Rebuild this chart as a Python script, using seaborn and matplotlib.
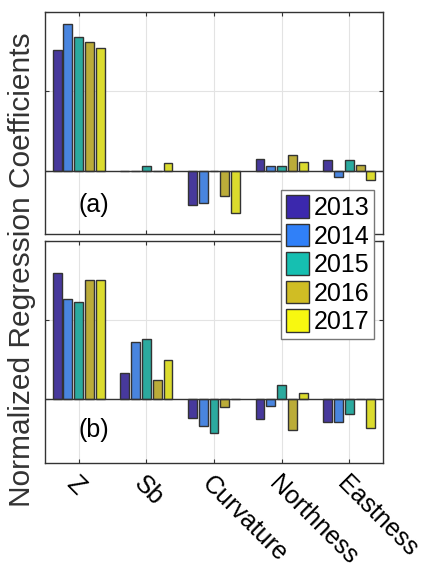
import numpy as np
import pandas as pd
import matplotlib
matplotlib.use("Agg")
import matplotlib.pyplot as plt
import seaborn as sns
from matplotlib.patches import Patch

features = ["Z", "Sb", "Curvature", "Northness", "Eastness"]
years = ["2013", "2014", "2015", "2016", "2017"]
colors = ["#3b28ad", "#3080f8", "#16bfb1", "#d0bd24", "#f8f810"]

# coefficients per year, one value per feature
coef_a = {
    "2013": [1.52, 0.0, -0.43, 0.14, 0.13],
    "2014": [1.85, 0.0, -0.41, 0.06, -0.08],
    "2015": [1.69, 0.06, 0.0, 0.06, 0.13],
    "2016": [1.62, 0.0, -0.32, 0.19, 0.07],
    "2017": [1.55, 0.10, -0.54, 0.11, -0.12],
}
coef_b = {
    "2013": [1.59, 0.33, -0.23, -0.24, -0.28],
    "2014": [1.27, 0.72, -0.33, -0.08, -0.29],
    "2015": [1.23, 0.76, -0.42, 0.18, -0.18],
    "2016": [1.51, 0.25, -0.10, -0.39, 0.0],
    "2017": [1.51, 0.50, 0.0, 0.08, -0.36],
}


def to_long(coef):
    rows = []
    for yr in years:
        for f, v in zip(features, coef[yr]):
            rows.append({"feature": f, "year": yr, "value": v})
    return pd.DataFrame(rows)


def panel(ax, df, tag, tag_y):
    ax.set_axisbelow(True)
    sns.barplot(df, x="feature", y="value", hue="year", order=features,
                hue_order=years, palette=colors, width=0.8, gap=0.18,
                edgecolor="#333333", linewidth=1, legend=False, ax=ax)
    ax.grid(True, axis="both", color="#e3e3e3", linewidth=0.8)
    ax.axhline(0, color="#333333", linewidth=1, zorder=3)
    ax.set_xlim(-0.5, 4.5)
    ax.set_ylim(-0.8, 2.0)
    ax.set_yticks([0, 1, 2])
    ax.set_yticklabels([])
    ax.set_xlabel("")
    ax.set_ylabel("")
    ax.tick_params(direction="in", length=3, top=True, right=True,
                   color="#333333", width=0.8)
    for s in ax.spines.values():
        s.set_color("#333333")
        s.set_linewidth(1)
    ax.text(0.0, tag_y, tag, fontsize=18, ha="left", va="center")


plt.rcParams["font.family"] = ["Liberation Sans", "DejaVu Sans"]
fig = plt.figure(figsize=(4.28, 5.68), dpi=100)
ax1 = fig.add_axes([0.105, 0.588, 0.790, 0.391])
ax2 = fig.add_axes([0.105, 0.185, 0.790, 0.391])

panel(ax1, to_long(coef_a), "(a)", -0.43)
panel(ax2, to_long(coef_b), "(b)", -0.39)

ax1.set_xticklabels([])
ax2.set_xticks(range(len(features)))
ax2.set_xticklabels(features, fontsize=18, rotation=-45, ha="left",
                    va="top", rotation_mode="anchor")
ax2.tick_params(axis="x", pad=6)

fig.text(0.051, 0.525, "Normalized Regression Coefficients", rotation=90,
         fontsize=21.5, ha="center", va="center", color="#333333")

handles = [Patch(facecolor=c, edgecolor="#333333", linewidth=1) for c in colors]
fig.legend(handles, years, loc="upper left", bbox_to_anchor=(0.657, 0.665),
           fontsize=18, fancybox=False, edgecolor="#777777", framealpha=1,
           handlelength=0.9, handleheight=1.0, handletextpad=0.2,
           labelspacing=0.15, borderpad=0.2, borderaxespad=0)

fig.savefig("out.png", dpi=100)
